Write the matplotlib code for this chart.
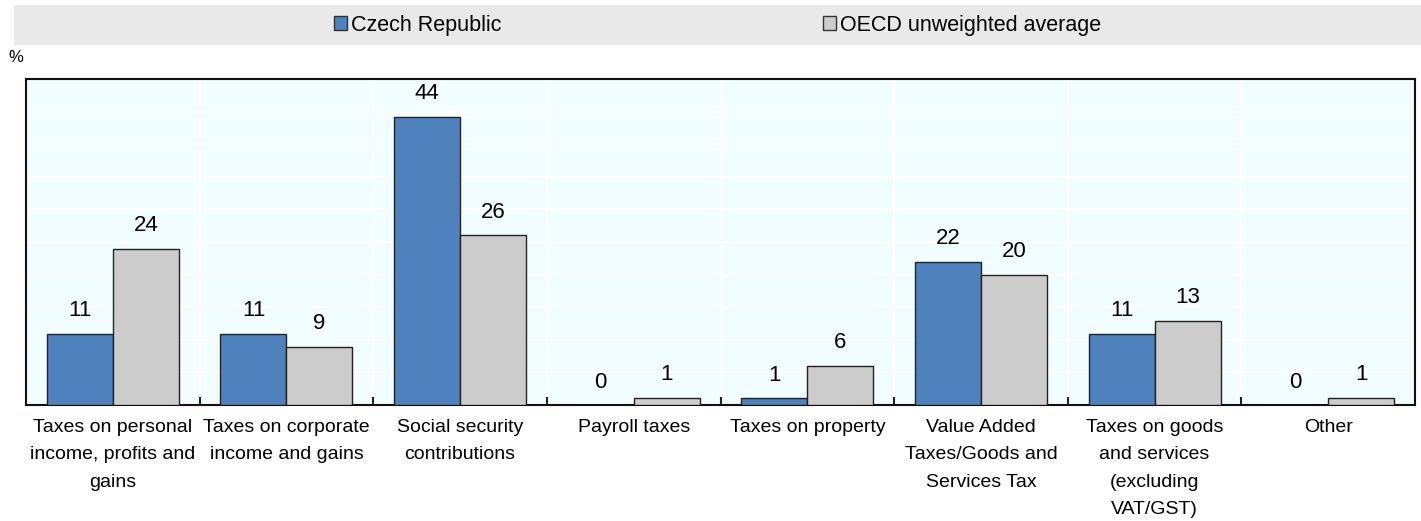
import matplotlib
matplotlib.use("Agg")
import matplotlib.pyplot as plt
from matplotlib.patches import Rectangle
from matplotlib.ticker import MultipleLocator, FixedLocator
import numpy as np

plt.rcParams['font.family'] = ['Liberation Sans', 'DejaVu Sans']

categories = [
    "Taxes on personal\nincome, profits and\ngains",
    "Taxes on corporate\nincome and gains",
    "Social security\ncontributions",
    "Payroll taxes",
    "Taxes on property",
    "Value Added\nTaxes/Goods and\nServices Tax",
    "Taxes on goods\nand services\n(excluding\nVAT/GST)",
    "Other",
]
czech = [10.9, 10.9, 44.2, 0.0, 1.0, 22.0, 10.9, 0.0]
oecd = [24.0, 8.9, 26.0, 1.1, 6.0, 20.0, 12.9, 1.1]
series_names = ["Czech Republic", "OECD unweighted average"]

blue = '#4F81BD'
grey = '#CCCCCC'
fs_cat = 14
fs_val = 16
fs_leg = 15.5

fig = plt.figure(figsize=(14.21, 5.21), dpi=100)
ax = fig.add_axes([26/1421, 1-405/521, (1415-26)/1421, (405-79)/521])
ax.set_facecolor('#F2FDFF')

x = np.arange(len(categories))
w = 0.38
b1 = ax.bar(x - w/2, czech, w, color=blue, edgecolor='#222222', linewidth=1.0, label=series_names[0], zorder=3)
b2 = ax.bar(x + w/2, oecd, w, color=grey, edgecolor='#222222', linewidth=1.0, label=series_names[1], zorder=3)

for bars, vals in ((b1, czech), (b2, oecd)):
    for r, v in zip(bars, vals):
        ax.annotate(f"{round(v):d}", (r.get_x() + r.get_width()/2, v),
                    xytext=(0, 9), textcoords='offset points', ha='center', va='bottom',
                    fontsize=fs_val, zorder=4)

ax.set_xlim(-0.5, len(categories) - 0.5)
ax.set_ylim(0, 50)
ax.yaxis.set_major_locator(MultipleLocator(5))
ax.set_yticklabels([])
ax.tick_params(axis='y', length=0)
ax.set_xticks(x)
ax.set_xticklabels(categories, fontsize=fs_cat, linespacing=1.8)
ax.tick_params(axis='x', which='major', length=0, pad=10)
ax.xaxis.set_minor_locator(FixedLocator(np.arange(0.5, len(categories) - 1, 1)))
ax.tick_params(axis='x', which='minor', direction='in', length=6, width=1.5, color='#222222')
ax.grid(axis='y', color='white', linewidth=1.5, zorder=0)
ax.grid(axis='x', which='minor', color='white', linewidth=1.5, zorder=0)
ax.set_axisbelow(True)
for s in ax.spines.values():
    s.set_color('#111111')
    s.set_linewidth(1.5)

# legend band
fig.patches.append(Rectangle((14/1421, 1-45/521), (1421-14)/1421, 40/521,
                             transform=fig.transFigure, facecolor='#E9E9E9', edgecolor='none', zorder=0))
leg = fig.legend(handles=[b1, b2], labels=series_names, loc='center', ncol=2,
                 bbox_to_anchor=(0.505, 1-25/521), frameon=False, fontsize=fs_leg,
                 handlelength=0.6, handleheight=0.6, handletextpad=0.2, columnspacing=14.9,
                 borderaxespad=0)
for h in leg.legend_handles:
    h.set_edgecolor('#333333')
    h.set_linewidth(1.0)

fig.text(8/1421, 1-57/521, "%", fontsize=12, va='center', ha='left')

fig.savefig("out.png", dpi=100)
